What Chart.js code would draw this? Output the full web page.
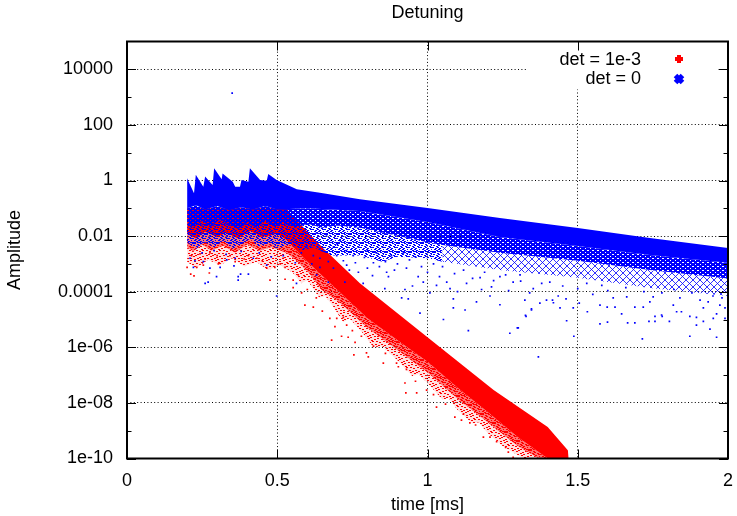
<!DOCTYPE html>
<html>
<head>
<meta charset="utf-8">
<title>Detuning</title>
<script src="https://cdn.jsdelivr.net/npm/chart.js@4/dist/chart.umd.min.js"></script>
<style>
  html, body { margin: 0; padding: 0; background: #fff; }
  canvas { display: block; }
</style>
</head>
<body>
<canvas id="graph" width="737" height="516"></canvas>
<script>
const xTicks = [0, 0.5, 1, 1.5, 2];
const yTicks = [1e-10, 1e-8, 1e-6, 1e-4, 1e-2, 1, 100, 10000];
const yTickLabels = ["1e-10", "1e-08", "1e-06", "0.0001", "0.01", "1", "100", "10000"];
const yMinorTicks = [1e-9, 1e-7, 1e-5, 1e-3, 0.1, 10, 1000];
const legendLabels = ["det = 1e-3", "det = 0"];

// blue band: top edge, end of solid part, end of dense part, end of sparse part
const blueTop = [[0.2,1.2],[0.223,0.35],[0.229,1.6],[0.254,0.6],[0.26,1.4],[0.285,0.69],[0.29,2.75],[0.315,1.1],[0.318,1.8],[0.352,0.9],[0.36,0.6],[0.376,0.6],[0.381,1.04],[0.404,0.91],[0.409,2.75],[0.443,1.04],[0.465,0.98],[0.47,1.7],[0.498,1.04],[0.565,0.48],[0.642,0.36],[0.775,0.21],[1,0.103],[1.241,0.045],[1.5,0.0195],[1.74,0.0085],[2,0.0037]];
const blueSolid = [[0.2,0.1],[0.23,0.13],[0.26,0.09],[0.3,0.12],[0.34,0.085],[0.38,0.11],[0.42,0.09],[0.46,0.12],[0.5,0.09],[0.6,0.1],[0.775,0.08],[1,0.032],[1.24,0.0093],[1.5,0.0044],[1.74,0.0021],[2,0.0011]];
const blueMid = [[0.2,0.03],[0.22,0.02],[0.25,0.035],[0.28,0.022],[0.31,0.04],[0.34,0.025],[0.37,0.018],[0.4,0.03],[0.43,0.02],[0.46,0.035],[0.49,0.022],[0.52,0.03],[0.56,0.02],[0.6,0.028],[0.65,0.02],[0.7,0.024],[0.775,0.02],[1,0.006],[1.05,0.0048],[1.24,0.0025],[1.5,0.0013],[1.74,6e-4],[2,3e-4]];
const blueLow = [[0.2,0.006],[0.23,0.0035],[0.26,0.006],[0.29,0.004],[0.32,0.007],[0.35,0.0035],[0.38,0.005],[0.41,0.008],[0.44,0.004],[0.47,0.0055],[0.5,0.0035],[0.54,0.005],[0.58,0.003],[0.62,0.004],[0.68,0.002],[0.775,0.002],[0.85,0.0012],[0.9,0.0018],[1,0.0016],[1.05,0.0012],[1.24,6e-4],[1.5,3.2e-4],[1.74,1.35e-4],[2,7e-5]];

// red band: top edge, end of solid part, end of dense part, end of sparse part
const redTop = [[0.2,0.1],[0.53,0.1],[0.566,0.036],[0.652,0.0037],[0.775,2e-4],[1,2.3e-6],[1.22,2.9e-8],[1.4,1.35e-9],[1.467,2e-10],[1.47,1e-10]];
const redCore = [[0.2,0.012],[0.23,0.008],[0.26,0.014],[0.3,0.009],[0.33,0.013],[0.37,0.008],[0.41,0.015],[0.45,0.009],[0.5,0.012],[0.53,0.0072],[0.6,0.0012],[0.7,1.15e-4],[0.8,1.1e-5],[0.9,1.8e-6],[1,3e-7],[1.1,3.5e-8],[1.2,4.7e-9],[1.3,5.9e-10],[1.4,1e-10],[1.47,1e-10]];
const redMid = [[0.2,0.004],[0.22,0.0028],[0.25,0.005],[0.28,0.003],[0.32,0.0045],[0.36,0.0025],[0.4,0.005],[0.44,0.003],[0.48,0.004],[0.53,0.0025],[0.56,0.0014],[0.6,5.6e-4],[0.65,1.1e-4],[0.7,4.8e-5],[0.8,5e-6],[0.9,8e-7],[1,1.25e-7],[1.1,1.4e-8],[1.2,2e-9],[1.3,2.8e-10],[1.37,1e-10],[1.47,1e-10]];
const redFringe = [[0.2,0.0012],[0.23,0.0007],[0.27,0.0014],[0.31,0.0009],[0.35,0.0016],[0.39,0.0008],[0.43,0.0012],[0.47,0.0006],[0.51,0.0009],[0.55,5e-4],[0.58,2e-4],[0.6,2.6e-4],[0.64,6e-5],[0.66,7e-5],[0.687,2.8e-5],[0.72,8e-6],[0.74,1.1e-5],[0.785,3.2e-6],[0.82,1e-6],[0.85,1.1e-6],[0.899,3.5e-7],[0.95,9e-8],[0.97,1.1e-7],[1,5.2e-8],[1.05,1.3e-8],[1.07,1.5e-8],[1.1,5.5e-9],[1.15,1.8e-9],[1.17,2e-9],[1.2,8.3e-10],[1.25,2.8e-10],[1.287,1.6e-10],[1.32,1e-10],[1.47,1e-10]];

// scattered points
const blueDots = [[0.35,1400],[0.26,2e-4],[0.27,2.2e-4],[0.298,3.5e-4],[0.37,3.5e-4],[0.37,2.6e-4],[0.378,4.3e-4],[0.404,4.3e-4],[0.276,7e-4],[0.221,7.5e-4],[0.226,1.3e-3],[0.254,1.2e-3],[0.31,7.5e-4],[0.356,8.5e-4],[0.42,1.6e-3],[0.332,1.4e-3],[0.21,1.6e-3],[0.465,9e-4],[0.36,1.6e-3],[0.498,7e-5],[0.564,2e-4],[0.631,4e-4],[0.642,7.5e-4],[0.687,7e-4],[0.698,2e-3],[0.731,9e-4],[0.753,2e-3],[0.77,4e-3],[0.687,4e-3],[0.664,0.011],[0.709,0.007],[0.631,0.013],[0.598,4e-3],[0.642,1.6e-3],[0.615,1e-3],[0.25,2.5e-3],[0.29,3e-3],[0.33,2.2e-3],[0.38,2.8e-3],[0.44,2.5e-3],[0.48,1.8e-3],[0.52,2e-3],[0.56,1.1e-3],[0.58,2.5e-3],[0.72,1.3e-3],[0.79,1.7e-3],[0.83,2.5e-3],[0.86,1.2e-3],[0.9,1e-3],[0.94,1.4e-3],[0.975,1.7e-5],[1.053,1e-5],[1.086,2.6e-5],[1.125,2.2e-5],[1.136,4e-6],[1.274,3.2e-6],[1.299,5e-6],[1.369,4.5e-7],[1.463,9e-6],[1.487,2.5e-6],[1.326,1.4e-5],[1.346,2.4e-5],[1.419,4e-5],[1.485,2.6e-5],[1.241,3.4e-5],[1.163,4.3e-5],[1.086,5.5e-5],[0.936,5.5e-5],[0.914,6e-5],[0.925,1.2e-4],[0.858,1.3e-4],[0.786,2e-4],[0.725,2.2e-4],[0.67,2.2e-4],[0.986,2.2e-4],[1.008,9e-5],[0.969,3.5e-4],[0.87,3.5e-4],[0.817,3.8e-4],[0.77,5e-4],[0.864,5e-4],[1.075,1.3e-4],[1.213,1.5e-4],[1.208,7e-5],[1.324,5e-5],[1.396,5e-5],[1.435,7e-5],[1.461,5.5e-5],[1.352,1.3e-4],[1.285,2.2e-4],[1.407,2.2e-4],[1.13,2e-4],[1.175,3.2e-4],[1.241,3.5e-4],[1.308,4e-4],[1.064,2.2e-4],[1.302,5e-6],[1.328,1.3e-5],[1.574,7e-6],[1.599,8e-6],[1.666,7.5e-6],[1.69,7.5e-6],[1.715,2e-6],[1.737,8.5e-6],[1.757,8.5e-6],[1.781,1.3e-5],[1.805,8.5e-6],[1.873,2.5e-6],[1.895,6.3e-6],[1.918,8.5e-6],[1.94,4.5e-6],[1.962,2.3e-6],[1.962,1.6e-5],[1.99,1.1e-5],[1.951,1.1e-5],[1.873,1.3e-5],[1.829,1.9e-5],[1.779,1.45e-5],[1.757,1.3e-5],[1.646,1.6e-5],[1.624,2.8e-5],[1.598,2.8e-5],[1.574,3.3e-5],[1.532,1.9e-5],[1.505,3.9e-5],[1.441,2.6e-5],[1.346,2.2e-5],[1.374,3.9e-5],[1.416,5e-5],[1.618,6e-5],[1.69,2.8e-5],[1.718,2.8e-5],[1.74,4.3e-5],[1.818,3.3e-5],[1.845,1.9e-5],[1.895,1.2e-5],[1.918,2.6e-5],[1.973,3.3e-5],[1.99,2.6e-5],[1.934,4.3e-5],[1.663,6.5e-5],[1.751,6.5e-5],[1.84,6e-5],[1.907,5e-5],[1.55,8e-5],[1.6,1.1e-4],[1.66,1.4e-4],[1.72,1e-4],[1.78,9e-5],[1.82,1.2e-4],[1.88,9e-5],[1.95,7e-5],[1.98,6e-5],[1.45,1.6e-4],[1.5,1.3e-4],[1.53,2e-4],[1.58,1.7e-4],[1.38,2e-4],[1.31,2.4e-4],[1.26,4e-4],[1.19,5e-4],[1.12,6e-4],[1.05,8e-4],[1.02,1e-3],[0.62,2e-3],[0.65,3e-3],[0.67,1.2e-3],[0.7,5e-3],[0.73,3e-3],[0.76,1.1e-3],[0.8,3e-3],[0.82,1.1e-3],[0.85,4e-3],[0.88,2e-3],[0.92,2.5e-3],[0.96,1.8e-3],[0.98,8e-4],[0.74,6e-4],[0.8,7e-4],[0.84,8e-4],[0.89,6e-4],[0.93,7e-4],[1,5e-4],[1.04,3.5e-4],[1.09,4.5e-4],[1.15,3e-4],[1.22,2.5e-4],[0.95,1.6e-4],[1.03,1.7e-4],[1.1,1e-4],[1.18,1.2e-4],[1.27,1.1e-4],[1.34,9e-5]];
const redDots = [[0.2,7.5e-4],[0.212,4.3e-4],[0.223,3.7e-4],[0.274,4.7e-4],[0.232,7.5e-4],[0.254,9e-4],[0.304,1e-3],[0.215,2e-3],[0.243,2.3e-3],[0.276,2.5e-3],[0.343,2e-3],[0.404,2e-3],[0.432,1.6e-3],[0.465,7e-4],[0.476,2.6e-4],[0.492,7.5e-4],[0.52,1.6e-3],[0.51,1e-3],[0.553,2.6e-4],[0.553,1.4e-4],[0.581,9e-5],[0.526,7.5e-4],[0.526,2.8e-4],[0.592,3.3e-5],[0.62,2.8e-5],[0.681,1.8e-6],[0.675,1.1e-5],[0.698,1.1e-5],[0.692,5.5e-6],[0.731,6.3e-6],[0.714,2.5e-6],[0.736,2.3e-6],[0.759,1.5e-6],[0.755,5.3e-7],[0.797,6.3e-7],[0.803,4.5e-7],[0.853,2.7e-7],[0.897,2.7e-7],[0.903,2e-7],[0.925,5.2e-8],[0.928,2.3e-8],[0.964,2.3e-8],[1.03,7e-9],[0.997,2.9e-8],[1.091,3.1e-9],[1.113,2.4e-9],[1.141,1.9e-9],[1.186,5.9e-10],[1.208,5.9e-10],[1.269,1.7e-10],[1.285,1.1e-10],[0.57,4e-4],[0.6,1.2e-4],[0.63,6e-5],[0.65,2e-5],[0.72,1.2e-5],[0.75,4e-6],[0.78,2.5e-6],[0.82,1.1e-6],[0.86,6e-7],[0.93,1.6e-7],[0.96,6e-8],[1.02,2e-8],[1.06,9e-9],[1.12,4e-9],[1.16,1.6e-9],[1.23,4e-10],[1.26,2.5e-10],[0.26,1.5e-3],[0.3,2e-3],[0.36,1.2e-3],[0.39,1.5e-3],[0.45,1.3e-3]];

const toPoints = (pairs) => pairs.map((p) => ({ x: p[0], y: p[1] }));

// uneven speck positions for the fill textures
const speckTile = [[1,2],[7,0],[13,3],[20,1],[26,4],[4,6],[10,8],[17,6],[23,9],[29,7],[2,11],[8,13],[14,11],[19,14],[26,12],[5,16],[11,18],[16,16],[22,19],[28,17],[1,21],[7,20],[13,22],[19,21],[25,22]];

const makePattern = (w, h, draw) => {
  const tile = document.createElement("canvas");
  tile.width = w;
  tile.height = h;
  draw(tile.getContext("2d"));
  return tile.getContext("2d").createPattern(tile, "repeat");
};

const speckle = (color, under, scale) =>
  makePattern(Math.round(31 * scale), Math.round(23 * scale), (c) => {
    if (under) {
      c.fillStyle = under;
      c.fillRect(0, 0, 31, 23);
    }
    c.fillStyle = color;
    speckTile.forEach((s) => c.fillRect(Math.floor(s[0] * scale), Math.floor(s[1] * scale), 2, 1));
  });

const latticeFill = makePattern(7, 7, (c) => {
  c.strokeStyle = "rgba(0,0,255,0.8)";
  c.lineWidth = 1;
  c.beginPath();
  c.moveTo(0, 0); c.lineTo(7, 7);
  c.moveTo(7, 0); c.lineTo(0, 7);
  c.stroke();
});

const blueDenseFill = makePattern(5, 4, (c) => {
  c.fillStyle = "#0000ff";
  c.fillRect(0, 0, 5, 4);
  c.clearRect(0, 0, 1, 1);
  c.clearRect(2, 2, 2, 1);
});

const band = (pairs, fill, color) => ({
  data: toPoints(pairs),
  showLine: true,
  pointRadius: 0,
  borderWidth: 0,
  borderColor: "transparent",
  fill: fill,
  backgroundColor: color,
});

const dots = (pairs, color) => ({
  data: toPoints(pairs),
  showLine: false,
  pointStyle: "rect",
  pointRadius: 1.2,
  pointBorderWidth: 0,
  pointBackgroundColor: color,
});

// border, inward ticks and legend, like gnuplot draws them
const framePlugin = {
  id: "frame",
  afterDraw(chart) {
    const c = chart.ctx;
    const a = chart.chartArea;
    const sx = chart.scales.x;
    const sy = chart.scales.y;
    c.save();

    c.fillStyle = "#fff";
    c.fillRect(528, a.top, 190, 48);

    c.strokeStyle = "#000";
    c.lineWidth = 1;
    c.beginPath();
    xTicks.forEach((v) => {
      const px = Math.round(sx.getPixelForValue(v)) + 0.5;
      c.moveTo(px, a.bottom); c.lineTo(px, a.bottom - 9);
      c.moveTo(px, a.top); c.lineTo(px, a.top + 9);
    });
    const tickY = (v, len) => {
      const py = Math.round(sy.getPixelForValue(v)) + 0.5;
      c.moveTo(a.left, py); c.lineTo(a.left + len, py);
      c.moveTo(a.right, py); c.lineTo(a.right - len, py);
    };
    yTicks.forEach((v) => tickY(v, 9));
    yMinorTicks.forEach((v) => tickY(v, 4.5));
    c.stroke();

    c.lineWidth = 2;
    c.strokeRect(a.left, a.top, a.right - a.left, a.bottom - a.top);

    c.font = "18px 'Liberation Sans'";
    c.fillStyle = "#000";
    c.textAlign = "right";
    c.textBaseline = "middle";
    c.fillText(legendLabels[0], 641, 60);
    c.fillText(legendLabels[1], 641, 79);

    c.strokeStyle = "#ff0000";
    c.lineWidth = 4;
    c.beginPath();
    c.moveTo(675, 59); c.lineTo(683, 59);
    c.moveTo(679, 55); c.lineTo(679, 63);
    c.stroke();

    c.strokeStyle = "#0000ff";
    c.lineWidth = 5;
    c.beginPath();
    c.moveTo(675.5, 75.5); c.lineTo(682.5, 82.5);
    c.moveTo(682.5, 75.5); c.lineTo(675.5, 82.5);
    c.stroke();
    c.restore();
  },
};

const axisFont = { family: "'Liberation Sans'", size: 18 };
const gridStyle = { color: "#000", lineWidth: 1, drawTicks: false };
const borderStyle = { display: false, dash: [1, 2.4] };

const chart = new Chart(document.getElementById("graph"), {
  type: "scatter",
  data: {
    datasets: [
      dots(blueDots, "#0000ff"),
      band(blueTop, "+1", "#0000ff"),
      band(blueSolid, "+1", blueDenseFill),
      band(blueMid, false, "transparent"),
      band(blueMid.filter((p) => p[0] <= 1.05), "+1", speckle("#0000ff", null, 0.4)),
      band(blueLow.filter((p) => p[0] <= 1.05), false, "transparent"),
      band(blueMid.filter((p) => p[0] >= 1.05), "+1", latticeFill),
      band(blueLow.filter((p) => p[0] >= 1.05), false, "transparent"),
      dots(redDots, "#ff0000"),
      band(redTop, "+1", "#ff0000"),
      band(redCore, "+1", speckle("#ff0000", "rgba(255,0,0,0.55)", 0.4)),
      band(redMid, "+1", speckle("#ff0000", "rgba(255,0,0,0.12)", 0.55)),
      band(redFringe, false, "transparent"),
    ],
  },
  options: {
    responsive: false,
    animation: false,
    layout: { padding: { left: 0, right: 9, top: 0, bottom: 0 } },
    plugins: {
      legend: { display: false },
      title: { display: false },
      tooltip: { enabled: false },
    },
    scales: {
      x: {
        type: "linear",
        min: 0,
        max: 2,
        afterBuildTicks: (scale) => { scale.ticks = xTicks.map((v) => ({ value: v })); },
        afterFit: (scale) => { scale.height = 57.5; scale.paddingLeft = 0; scale.paddingRight = 0; },
        grid: gridStyle,
        border: borderStyle,
        ticks: {
          color: "#000",
          font: axisFont,
          padding: 12,
          maxRotation: 0,
          callback: (v) => String(v),
        },
        title: { display: true, text: "time [ms]", color: "#000", font: axisFont, padding: { top: 0, bottom: 0 } },
      },
      xTop: {
        type: "linear",
        position: "top",
        min: 0,
        max: 2,
        afterFit: (scale) => { scale.height = 41.5; scale.paddingLeft = 0; scale.paddingRight = 0; },
        grid: { display: false },
        border: { display: false },
        ticks: { display: false },
        title: { display: true, text: "Detuning", color: "#000", font: axisFont, padding: { top: 2, bottom: 0 } },
      },
      y: {
        type: "logarithmic",
        min: 1e-10,
        max: 1e5,
        afterBuildTicks: (scale) => { scale.ticks = yTicks.map((v) => ({ value: v })); },
        afterFit: (scale) => { scale.width = 127; scale.paddingTop = 0; scale.paddingBottom = 0; },
        grid: gridStyle,
        border: borderStyle,
        ticks: {
          color: "#000",
          font: axisFont,
          padding: 14,
          autoSkip: false,
          callback: (v, i) => yTickLabels[i],
        },
        title: { display: true, text: "Amplitude", color: "#000", font: axisFont, padding: { top: 4, bottom: 0 } },
      },
    },
  },
  plugins: [framePlugin],
});
</script>
</body>
</html>
